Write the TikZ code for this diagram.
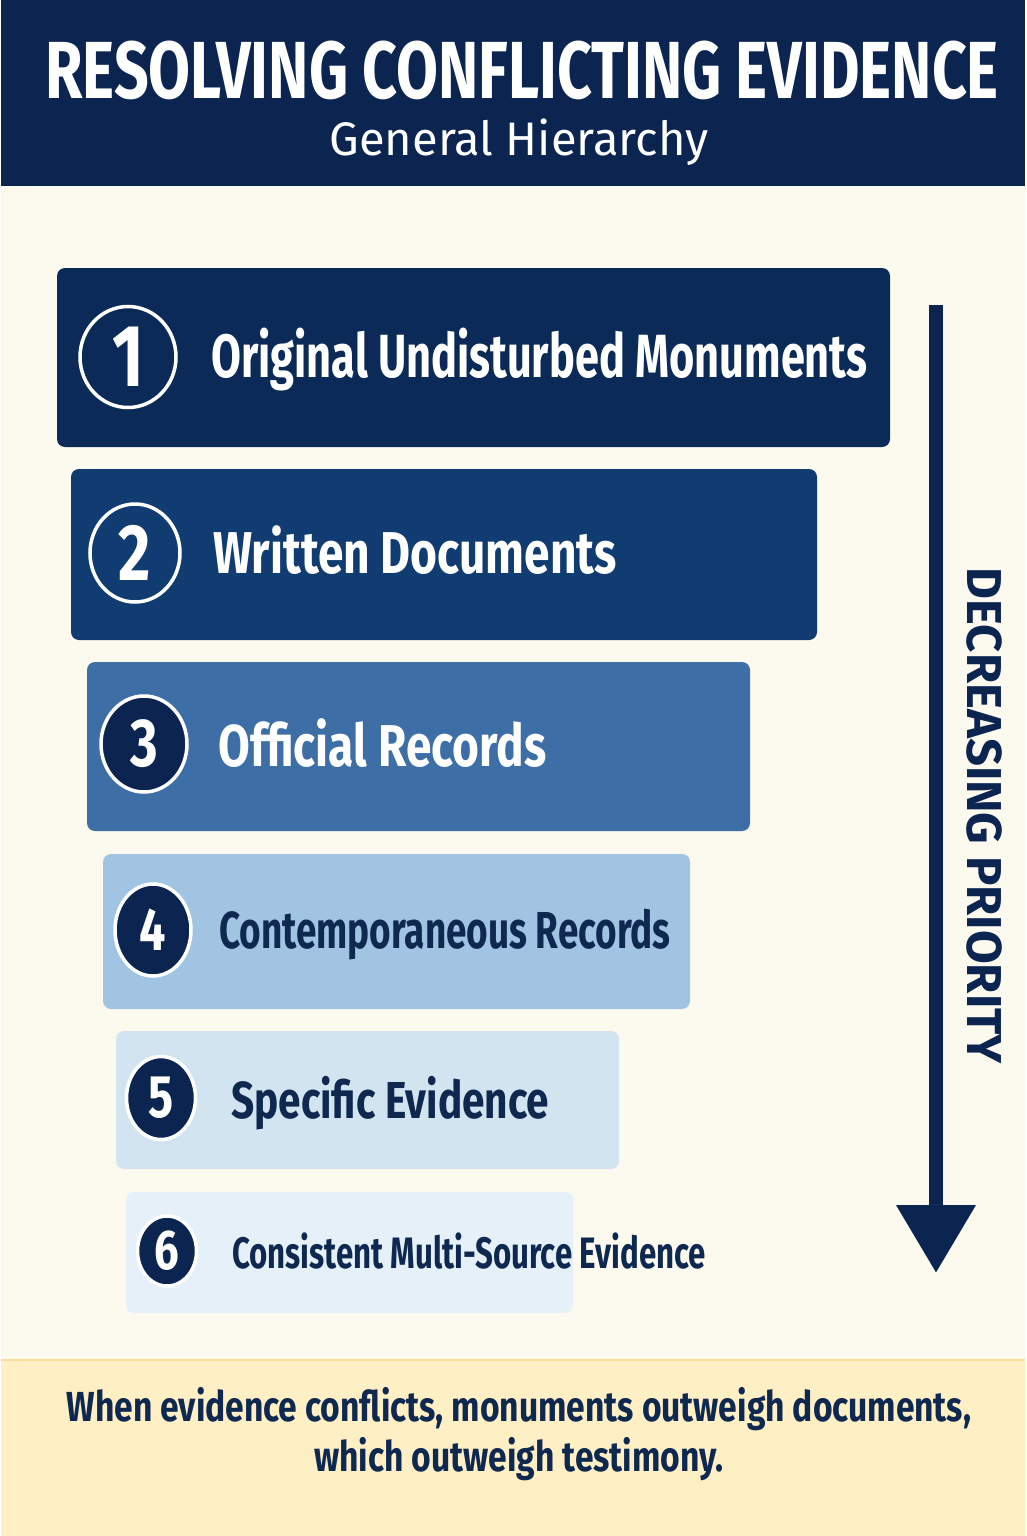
\documentclass[tikz,border=0pt]{standalone}
\usepackage{fontspec}
\setmainfont{Fira Sans}
\newfontfamily\narrowfont{Fira Sans}[FakeStretch=0.78]
\newfontfamily\narrowerfont{Fira Sans}[FakeStretch=0.71]
\newfontfamily\titlefont{Fira Sans}[FakeStretch=0.75]
\newfontfamily\footfont{Fira Sans}[FakeStretch=0.80]
\usetikzlibrary{shapes.geometric,arrows.meta}

\definecolor{navy}{RGB}{12,37,80}
\definecolor{cream}{RGB}{252,249,239}
\definecolor{tierA}{RGB}{11,42,87}
\definecolor{tierB}{RGB}{17,60,114}
\definecolor{tierC}{RGB}{61,111,166}
\definecolor{tierD}{RGB}{162,196,227}
\definecolor{tierE}{RGB}{211,228,241}
\definecolor{tierF}{RGB}{229,240,249}
\definecolor{inkdark}{RGB}{14,40,80}
\definecolor{footbg}{RGB}{254,239,196}
\definecolor{footline}{RGB}{249,222,154}

\tikzset{
  tier/.style={rounded corners=8pt},
  badge/.style={ellipse, draw=white, line width=3.5pt, inner sep=0pt, text=white},
  tiertext/.style={anchor=base west, inner sep=0pt},
}

\newcommand{\fs}[1]{\fontsize{#1}{#1}\selectfont}

\begin{document}
\begin{tikzpicture}[x=1pt,y=-1pt]
  % background and bands
  \fill[cream] (0,0) rectangle (1024,1536);
  \fill[navy] (0,0) rectangle (1024,186);
  \fill[footbg] (0,1360) rectangle (1024,1536);
  \draw[footline, line width=2pt] (0,1360) -- (1024,1360);

  \node[text=white, font=\titlefont\bfseries\fs{81}, inner sep=0pt] (title) at (521,70) {RESOLVING CONFLICTING EVIDENCE};
  \node[text=white, font=\fs{47}, anchor=base, inner sep=0pt] (subtitle) at (518,156) {General Hierarchy};

  % tiers
  \fill[tier, tierA] (56,268) rectangle (889,447);
  \fill[tier, tierB] (70,469) rectangle (816,640);
  \fill[tier, tierC] (86,662) rectangle (749,831);
  \fill[tier, tierD] (102,854) rectangle (689,1009);
  \fill[tier, tierE] (115,1031) rectangle (618,1169);
  \fill[tier, tierF] (125,1192) rectangle (572,1313);

  \node[badge, fill=tierA, minimum width=96pt, minimum height=101pt, font=\narrowfont\bfseries\fs{88}] (n1) at (127,357) {1};
  \node[badge, fill=tierB, minimum width=90pt, minimum height=98pt, font=\narrowfont\bfseries\fs{80}] (n2) at (134,553) {2};
  \node[badge, fill=navy, minimum width=86pt, minimum height=96pt, font=\narrowfont\bfseries\fs{68}] (n3) at (143,744) {3};
  \node[badge, fill=navy, minimum width=76pt, minimum height=92pt, font=\narrowfont\bfseries\fs{60}] (n4) at (152,930) {4};
  \node[badge, fill=navy, minimum width=69pt, minimum height=83pt, font=\narrowfont\bfseries\fs{60}] (n5) at (160,1098) {5};
  \node[badge, fill=navy, minimum width=59pt, minimum height=70pt, font=\narrowfont\bfseries\fs{56}] (n6) at (166,1251) {6};

  \node[tiertext, text=white, font=\narrowerfont\bfseries\fs{61}] (t1) at (210,377) {Original Undisturbed Monuments};
  \node[tiertext, text=white, font=\narrowfont\bfseries\fs{59}] (t2) at (212,573) {Written Documents};
  \node[tiertext, text=white, font=\narrowfont\bfseries\fs{59}] (t3) at (217,766) {Official Records};
  \node[tiertext, text=inkdark, font=\narrowerfont\bfseries\fs{52}] (t4) at (218,948) {Contemporaneous Records};
  \node[tiertext, text=inkdark, font=\narrowfont\bfseries\fs{52}] (t5) at (230,1118) {Specific Evidence};
  \node[tiertext, text=inkdark, font=\narrowerfont\bfseries\fs{44}] (t6) at (231,1268) {Consistent Multi-Source Evidence};

  % priority arrow
  \coordinate (arrtop) at (935,305);
  \coordinate (arrtip) at (935,1273);
  \draw[navy, line width=14pt, -{Triangle[length=68pt,width=76pt]}] (arrtop) -- (arrtip);
  \node[rotate=-90, text=navy, font=\bfseries\fs{49}, inner sep=0pt] (prio) at (983,816) {DECREASING PRIORITY};

  % footer note
  \node[text=inkdark, font=\footfont\bfseries\fs{42}, align=center, inner sep=0pt] (note) at (518,1434)
    {When evidence conflicts, monuments outweigh documents,\\[5pt] which outweigh testimony.};
\end{tikzpicture}
\end{document}
